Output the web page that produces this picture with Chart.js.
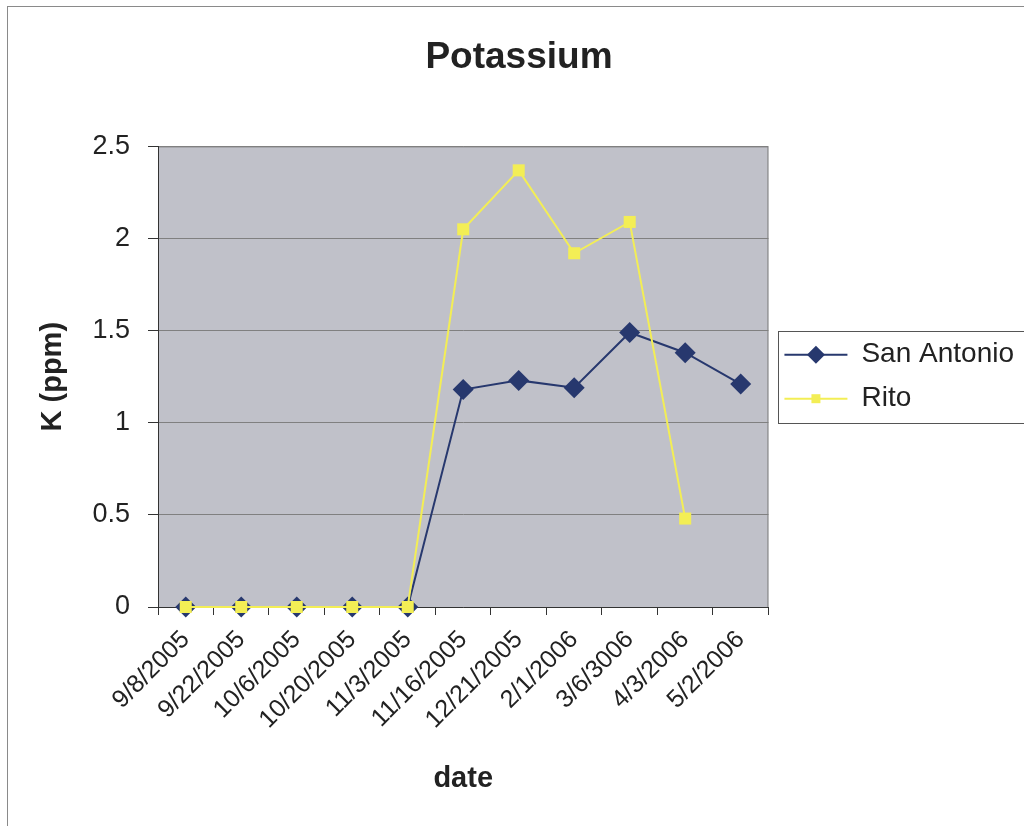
<!DOCTYPE html>
<html>
<head>
<meta charset="utf-8">
<script src="https://cdn.jsdelivr.net/npm/chart.js@4.4.1/dist/chart.umd.min.js"></script>
<style>
  html, body { margin: 0; padding: 0; background: #fff; }
</style>
</head>
<body>
<canvas id="potassiumChart" width="1024" height="826"></canvas>
<script>
const sampleDates = ['9/8/2005', '9/22/2005', '10/6/2005', '10/20/2005', '11/3/2005', '11/16/2005',
    '12/21/2005', '2/1/2006', '3/6/3006', '4/3/2006', '5/2/2006'];
const sanAntonio = [0, 0, 0, 0, 0, 1.18, 1.23, 1.19, 1.49, 1.38, 1.21];
const rito = [0, 0, 0, 0, 0, 2.05, 2.37, 1.92, 2.09, 0.48, null];

const yMin = 0;
const yMax = 2.5;
const yStep = 0.5;

const FONT = '"Liberation Sans", Arial, sans-serif';
const TEXT = '#222';

function drawMarker(ctx, style, x, y, r, color) {
    ctx.beginPath();
    if (style === 'rectRot') {
        ctx.moveTo(x - r, y);
        ctx.lineTo(x, y - r);
        ctx.lineTo(x + r, y);
        ctx.lineTo(x, y + r);
        ctx.closePath();
    } else {
        ctx.rect(x - r, y - r, r * 2, r * 2);
    }
    ctx.fillStyle = color;
    ctx.fill();
}

// background, outer frame, plot fill and the legend frame/markers
const excelLook = {
    id: 'excelLook',
    beforeDraw(chart) {
        const { ctx, chartArea: a } = chart;
        ctx.save();
        ctx.fillStyle = '#fff';
        ctx.fillRect(0, 0, chart.width, chart.height);
        ctx.strokeStyle = '#8a8a8a';
        ctx.lineWidth = 1;
        ctx.strokeRect(7.5, 6.5, chart.width + 20, chart.height + 20);
        ctx.fillStyle = '#c0c1c9';
        ctx.fillRect(a.left, a.top, a.right - a.left, a.bottom - a.top);
        ctx.strokeStyle = '#808080';
        ctx.beginPath();
        ctx.moveTo(a.left, a.top + 0.5);
        ctx.lineTo(a.right - 0.5, a.top + 0.5);
        ctx.lineTo(a.right - 0.5, a.bottom);
        ctx.stroke();
        ctx.restore();
    },
    afterDraw(chart) {
        const legend = chart.legend;
        const boxes = legend.legendHitBoxes;
        if (!boxes || !boxes.length) return;
        const { ctx } = chart;
        const boxW = legend.options.labels.boxWidth;
        ctx.save();
        legend.legendItems.forEach((item, i) => {
            const hb = boxes[i];
            const ds = chart.data.datasets[item.datasetIndex];
            const r = ds.pointStyle === 'rectRot' ? 9 : 4.5;
            drawMarker(ctx, ds.pointStyle, hb.left + boxW / 2, hb.top + hb.height / 2, r, ds.borderColor);
        });
        const first = boxes[0];
        const last = boxes[boxes.length - 1];
        ctx.strokeStyle = '#555';
        ctx.lineWidth = 1;
        const left = Math.round(first.left - 6) + 0.5;
        const top = Math.round(first.top - 10) + 0.5;
        const bottom = Math.round(last.top + last.height + 10) + 0.5;
        ctx.strokeRect(left, top, chart.width + 20 - left, bottom - top);
        ctx.restore();
    }
};

const ctx = document.getElementById('potassiumChart').getContext('2d');

new Chart(ctx, {
    type: 'line',
    data: {
        labels: sampleDates,
        datasets: [
            {
                label: 'San Antonio',
                data: sanAntonio,
                borderColor: '#27386e',
                backgroundColor: '#27386e',
                borderWidth: 2,
                pointStyle: 'rectRot',
                pointRadius: 10.5,
                pointBorderWidth: 0,
                tension: 0,
                clip: false,
                order: 1
            },
            {
                label: 'Rito',
                data: rito,
                borderColor: '#f3ee55',
                backgroundColor: '#f3ee55',
                borderWidth: 2,
                pointStyle: 'rect',
                pointRadius: 8.5,
                pointBorderWidth: 0,
                tension: 0,
                clip: false,
                order: 0
            }
        ]
    },
    options: {
        responsive: false,
        devicePixelRatio: 1,
        animation: false,
        layout: {
            padding: { left: 14, right: 0, top: 0, bottom: 0 }
        },
        plugins: {
            title: {
                display: true,
                text: 'Potassium',
                color: TEXT,
                font: { family: FONT, size: 37, weight: 'bold' },
                padding: { top: 36, bottom: 66 }
            },
            legend: {
                position: 'right',
                fullSize: false,
                maxWidth: 258,
                labels: {
                    color: TEXT,
                    font: { family: FONT, size: 28 },
                    boxWidth: 63,
                    boxHeight: 0,
                    padding: 16,
                    sort: (a, b) => a.datasetIndex - b.datasetIndex
                }
            },
            tooltip: { enabled: false }
        },
        scales: {
            x: {
                offset: true,
                afterFit: scale => { scale.height = 219; },
                grid: {
                    offset: true,
                    drawOnChartArea: false,
                    drawTicks: true,
                    tickLength: 8,
                    tickColor: '#333'
                },
                border: { display: true, color: '#333', width: 1 },
                ticks: {
                    color: TEXT,
                    font: { family: FONT, size: 25 },
                    autoSkip: false,
                    minRotation: 45,
                    maxRotation: 45,
                    padding: 10,
                    labelOffset: 0
                },
                title: {
                    display: true,
                    text: 'date',
                    color: TEXT,
                    font: { family: FONT, size: 29, weight: 'bold' },
                    padding: { top: 0, bottom: 30 }
                }
            },
            y: {
                min: yMin,
                max: yMax,
                afterFit: scale => { scale.width = 144; },
                grid: {
                    color: '#808080',
                    lineWidth: 1,
                    tickLength: 10,
                    tickColor: '#333'
                },
                border: { display: true, color: '#333', width: 1 },
                ticks: {
                    stepSize: yStep,
                    color: TEXT,
                    font: { family: FONT, size: 27 },
                    padding: 18,
                    callback: value => `${value}`
                },
                title: {
                    display: true,
                    text: 'K (ppm)',
                    color: TEXT,
                    font: { family: FONT, size: 29, weight: 'bold' },
                    padding: { top: 22, bottom: 0 }
                }
            }
        }
    },
    plugins: [excelLook]
});
</script>
</body>
</html>
